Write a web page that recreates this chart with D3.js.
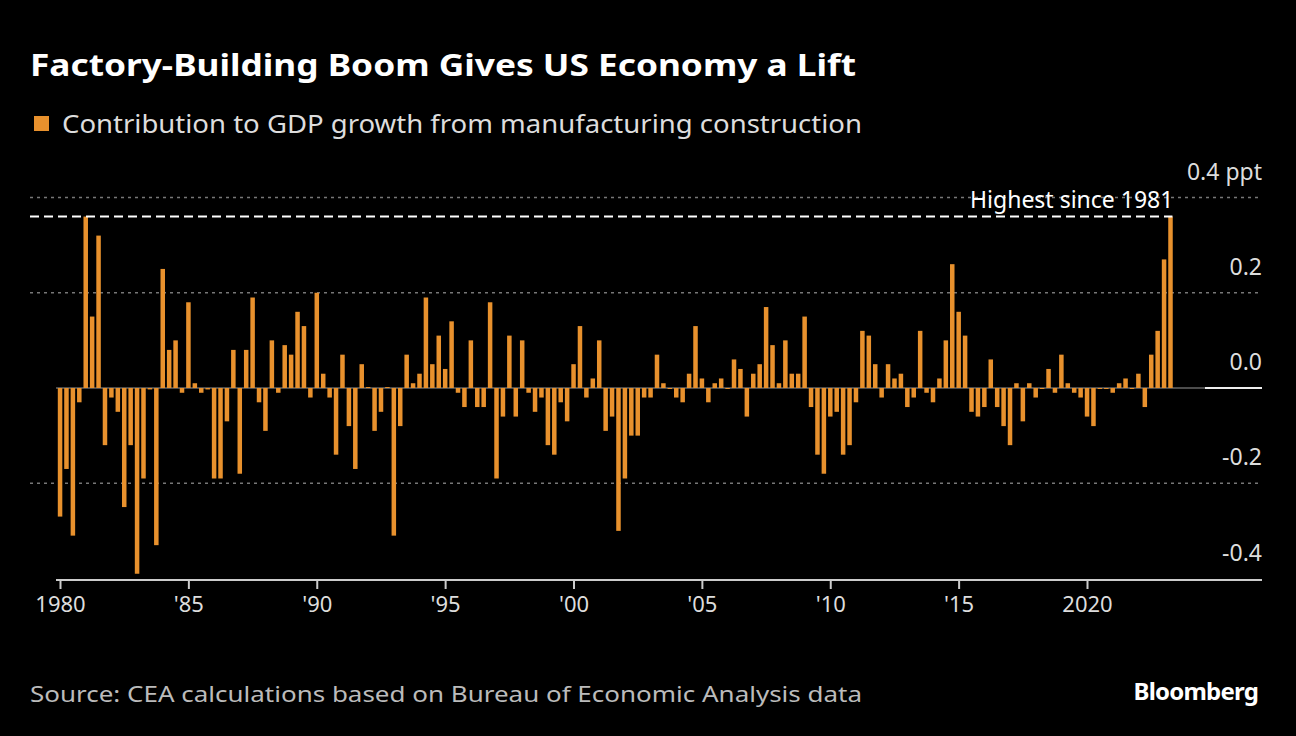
<!DOCTYPE html>
<html>
<head>
<meta charset="utf-8">
<script src="https://cdn.jsdelivr.net/npm/d3@7"></script>
<style>
  body { margin: 0; background: #000; }
  svg { font-family: "Noto Sans", "Open Sans", sans-serif; }
</style>
</head>
<body>
<svg id="chart" width="1296" height="736"></svg>
<script>
// quarterly contribution, 1980 Q1 .. 2023 Q2 (ppt)
let values = [
  -0.27, -0.17, -0.31, -0.03, 0.36, 0.15, 0.32, -0.12, -0.02, -0.05,
  -0.25, -0.12, -0.39, -0.19, -0.003, -0.33, 0.25, 0.08, 0.10, -0.01,
  0.18, 0.01, -0.01, -0.003, -0.19, -0.19, -0.07, 0.08, -0.18, 0.08,
  0.19, -0.03, -0.09, 0.10, -0.01, 0.09, 0.07, 0.16, 0.13, -0.02,
  0.20, 0.03, -0.02, -0.14, 0.07, -0.08, -0.17, 0.05, 0.002, -0.09,
  -0.05, 0.002, -0.31, -0.08, 0.07, 0.01, 0.03, 0.19, 0.05, 0.11,
  0.04, 0.14, -0.01, -0.04, 0.10, -0.04, -0.04, 0.18, -0.19, -0.06,
  0.11, -0.06, 0.10, -0.01, -0.05, -0.02, -0.12, -0.14, -0.03, -0.07,
  0.05, 0.13, -0.02, 0.02, 0.10, -0.09, -0.06, -0.30, -0.19, -0.10,
  -0.10, -0.02, -0.02, 0.07, 0.01, -0.002, -0.02, -0.03, 0.03, 0.13,
  0.02, -0.03, 0.01, 0.02, -0.002, 0.06, 0.04, -0.06, 0.03, 0.05,
  0.17, 0.09, 0.01, 0.10, 0.03, 0.03, 0.15, -0.04, -0.14, -0.18,
  -0.06, -0.05, -0.14, -0.12, -0.03, 0.12, 0.11, 0.05, -0.02, 0.05,
  0.02, 0.03, -0.04, -0.02, 0.12, -0.01, -0.03, 0.02, 0.10, 0.26,
  0.16, 0.11, -0.05, -0.06, -0.04, 0.06, -0.04, -0.08, -0.12, 0.01,
  -0.07, 0.01, -0.02, -0.002, 0.04, -0.01, 0.07, 0.01, -0.01, -0.02,
  -0.06, -0.08, -0.002, -0.002, -0.01, 0.01, 0.02, -0.002, 0.03, -0.04,
  0.07, 0.12, 0.27, 0.36
];
let data = values.map(function (v, i) {
  return { t: 1980 + i / 4, v: v };
});

let svg = d3.select("#chart");
let orange = "#e8912d";

let x = d3.scaleLinear().domain([1980, 2020]).range([60, 1087]);
let y = d3.scaleLinear().domain([-0.4, 0.4]).range([578.5, 197.5]);

// title + legend
svg.append("text").attr("x", 30).attr("y", 76)
  .attr("fill", "#fff").attr("font-size", 31).attr("font-weight", "bold")
  .attr("textLength", 826).attr("lengthAdjust", "spacingAndGlyphs")
  .text("Factory-Building Boom Gives US Economy a Lift");
svg.append("rect").attr("x", 34).attr("y", 116).attr("width", 15).attr("height", 15)
  .attr("fill", orange);
svg.append("text").attr("x", 62).attr("y", 133)
  .attr("fill", "#ddd").attr("font-size", 25)
  .attr("textLength", 800).attr("lengthAdjust", "spacingAndGlyphs")
  .text("Contribution to GDP growth from manufacturing construction");

// grid
[0.4, 0.2, -0.2].forEach(function (g) {
  svg.append("line").attr("x1", 30).attr("x2", 1262)
    .attr("y1", y(g)).attr("y2", y(g))
    .attr("stroke", "#777").attr("stroke-width", 1.5).attr("stroke-dasharray", "3,4");
});

// y labels
let yLabels = [
  { v: 0.4, t: "0.4 ppt" }, { v: 0.2, t: "0.2" }, { v: 0, t: "0.0" },
  { v: -0.2, t: "-0.2" }, { v: -0.4, t: "-0.4" }
];
svg.selectAll(".ylab").data(yLabels).enter().append("text")
  .attr("class", "ylab")
  .attr("x", 1262).attr("y", function (d) { return y(d.v) - 18; })
  .attr("text-anchor", "end").attr("fill", "#ddd").attr("font-size", 23)
  .text(function (d) { return d.t; });

// zero line
svg.append("line").attr("x1", 56).attr("x2", 1205).attr("y1", y(0)).attr("y2", y(0))
  .attr("stroke", "#666").attr("stroke-width", 1.5);
svg.append("line").attr("x1", 1205).attr("x2", 1262).attr("y1", y(0)).attr("y2", y(0))
  .attr("stroke", "#eee").attr("stroke-width", 2);

// bars
svg.selectAll(".bar").data(data).enter().append("rect")
  .attr("class", "bar")
  .attr("x", function (d) { return x(d.t) - 2.2; })
  .attr("width", 4.5)
  .attr("y", function (d) { return y(Math.max(0, d.v)); })
  .attr("height", function (d) { return Math.max(1, Math.abs(y(d.v) - y(0))); })
  .attr("fill", orange);

// highest annotation
let peak = 0.36;
svg.append("line").attr("x1", 30).attr("x2", x(2023.25) + 2)
  .attr("y1", y(peak)).attr("y2", y(peak))
  .attr("stroke", "#fff").attr("stroke-width", 2).attr("stroke-dasharray", "9,5");
svg.append("text").attr("x", x(2023.25) + 3).attr("y", y(peak) - 9)
  .attr("text-anchor", "end").attr("fill", "#fff").attr("font-size", 23)
  .text("Highest since 1981");

// x axis
let xAxis = d3.axisBottom(x)
  .tickValues(d3.range(1980, 2021, 5))
  .tickSize(-8)
  .tickFormat(function (d) { return d === 1980 || d === 2020 ? d : "'" + String(d).slice(2); });
let gx = svg.append("g").attr("transform", "translate(0,580)").call(xAxis);
gx.select(".domain").remove();
gx.append("line").attr("x1", 56).attr("x2", 1262).attr("stroke", "#ccc").attr("stroke-width", 2);
gx.selectAll(".tick line").attr("stroke", "#ccc").attr("stroke-width", 2).attr("y1", 0).attr("y2", 9);
gx.selectAll(".tick text").attr("fill", "#ddd").attr("font-size", 22)
  .attr("font-family", "'Noto Sans', sans-serif").attr("y", 16).attr("dy", "0.71em");

// footer
svg.append("text").attr("x", 30).attr("y", 702)
  .attr("fill", "#bbb").attr("font-size", 22)
  .attr("textLength", 832).attr("lengthAdjust", "spacingAndGlyphs")
  .text("Source: CEA calculations based on Bureau of Economic Analysis data");
svg.append("text").attr("x", 1258).attr("y", 700)
  .attr("text-anchor", "end").attr("fill", "#fff").attr("font-size", 24)
  .attr("font-weight", "bold").attr("letter-spacing", -0.8)
  .text("Bloomberg");
</script>
</body>
</html>
